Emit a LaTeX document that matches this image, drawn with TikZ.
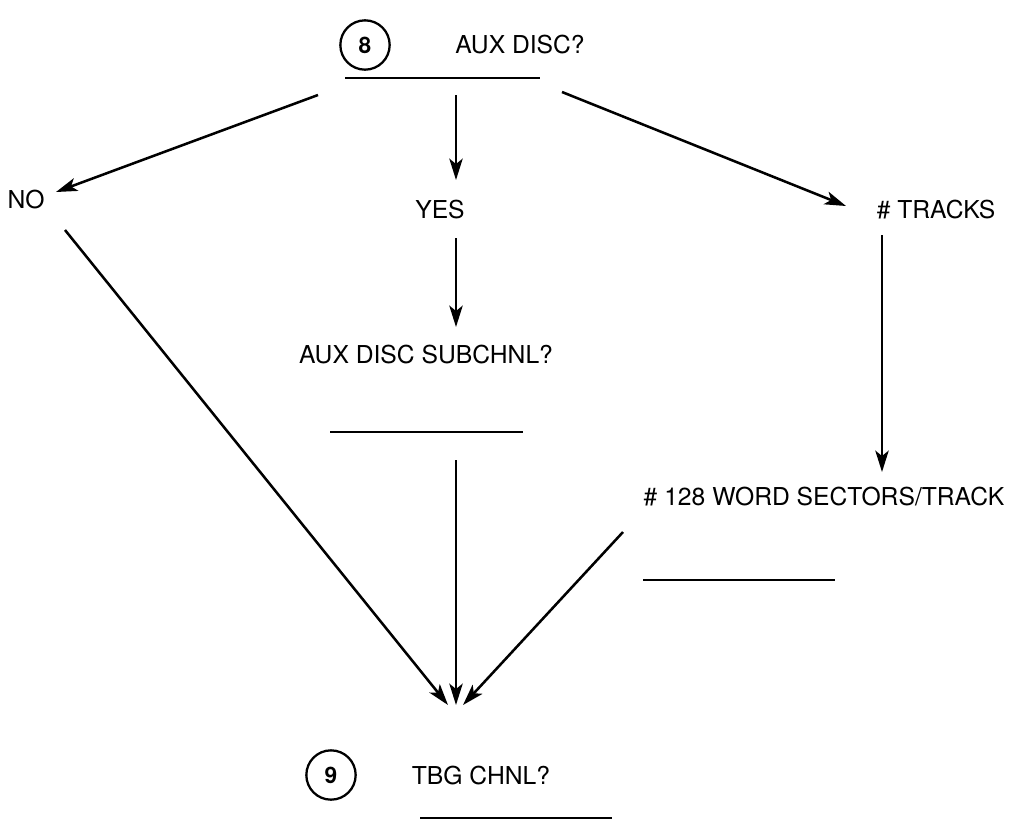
\documentclass[tikz,border=0pt]{standalone}
\usepackage{fontspec}
\setmainfont{TeX Gyre Heros}
\usetikzlibrary{arrows.meta}
\begin{document}
\begin{tikzpicture}[x=0.75pt,y=-0.75pt,
  lbl/.style={font=\fontsize{18.5}{22}\selectfont, inner sep=0pt},
  num/.style={circle, draw, line width=1.7pt, minimum size=37pt, inner sep=0pt, font=\fontsize{17}{20}\selectfont\bfseries},
  uline/.style={line width=1.2pt},
  arr/.style={line width=1.9pt, -{Stealth[length=16pt,width=10pt,inset=4pt]}}]
\useasboundingbox (0,0) rectangle (1013,825);
\node[num] (c8) at (365,45) {8};
\node[lbl] (aux) at (520,45) {AUX DISC?};
\coordinate (u1a) at (345,78); \coordinate (u1b) at (540,78);
\draw[uline] (u1a) -- (u1b);
\node[lbl] (no) at (26,200) {NO};
\node[lbl] (yes) at (440,210) {YES};
\node[lbl] (tracks) at (936,210) {\# TRACKS};
\node[lbl] (sub) at (426,355) {AUX DISC SUBCHNL?};
\coordinate (u2a) at (330,432); \coordinate (u2b) at (523,432);
\draw[uline] (u2a) -- (u2b);
\node[lbl] (sect) at (824,497) {\# 128 WORD SECTORS/TRACK};
\coordinate (u3a) at (643,580); \coordinate (u3b) at (835,580);
\draw[uline] (u3a) -- (u3b);
\node[num] (c9) at (331,775) {9};
\node[lbl] (tbg) at (481,775) {TBG CHNL?};
\coordinate (u4a) at (420,818); \coordinate (u4b) at (612,818);
\draw[uline] (u4a) -- (u4b);
% connectors
\coordinate (s1) at (318,95);
\coordinate (e1) at (56,192);
\draw[arr] (s1) -- (e1);
\coordinate (s2) at (456,95);
\coordinate (e2) at (456,180);
\draw[arr] (s2) -- (e2);
\coordinate (s3) at (562,92);
\coordinate (e3) at (846,206);
\draw[arr] (s3) -- (e3);
\coordinate (s4) at (456,238);
\coordinate (e4) at (456,327);
\draw[arr] (s4) -- (e4);
\coordinate (s5) at (882,235);
\coordinate (e5) at (882,472);
\draw[arr] (s5) -- (e5);
\coordinate (s6) at (65,230);
\coordinate (t1) at (448,705);
\draw[arr] (s6) -- (t1);
\coordinate (s7) at (456,460);
\coordinate (t2) at (456,705);
\draw[arr] (s7) -- (t2);
\coordinate (s8) at (623,532);
\coordinate (t3) at (463,705);
\draw[arr] (s8) -- (t3);
\end{tikzpicture}
\end{document}
